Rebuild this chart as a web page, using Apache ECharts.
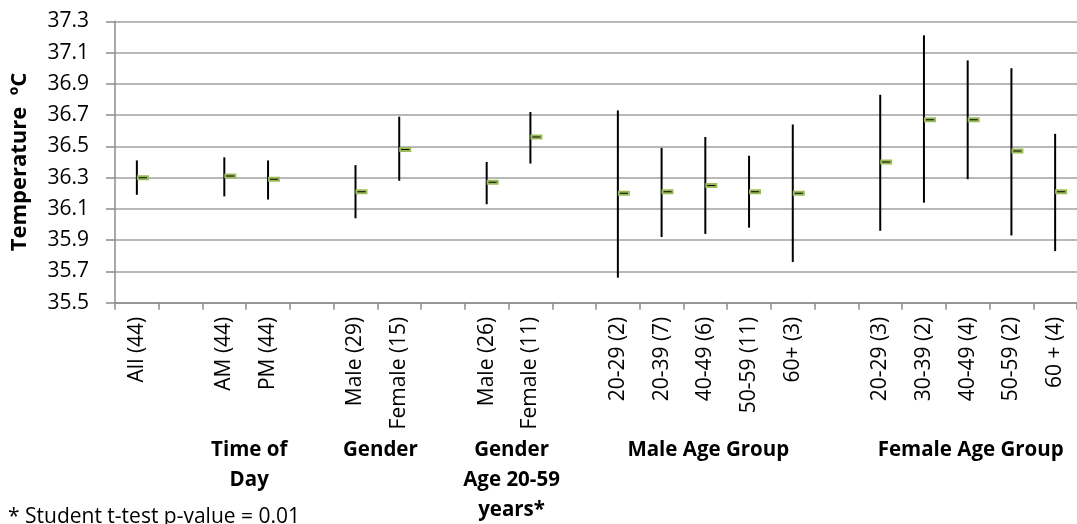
<!DOCTYPE html>
<html>
<head>
<meta charset="utf-8">
<script src="https://cdn.jsdelivr.net/npm/echarts@6/dist/echarts.min.js"></script>
<style>
html,body{margin:0;padding:0;background:#fff;}
#chart{width:1077px;height:524px;}
</style>
</head>
<body>
<div id="chart"></div>
<script>
// ---- data ----
const categories = ['All (44)', '', 'AM (44)', 'PM (44)', '', 'Male (29)', 'Female (15)', '', 'Male (26)', 'Female (11)', '',
  '20-29 (2)', '20-39 (7)', '40-49 (6)', '50-59 (11)', '60+ (3)', '',
  '20-29 (3)', '30-39 (2)', '40-49 (4)', '50-59 (2)', '60 + (4)'];
const highValues = [36.41, null, 36.43, 36.41, null, 36.38, 36.69, null, 36.40, 36.72, null,
  36.73, 36.49, 36.56, 36.44, 36.64, null, 36.83, 37.21, 37.05, 37.00, 36.58];
const lowValues = [36.19, null, 36.18, 36.16, null, 36.04, 36.28, null, 36.13, 36.39, null,
  35.66, 35.92, 35.94, 35.98, 35.76, null, 35.96, 36.14, 36.29, 35.93, 35.83];
const meanValues = [36.30, null, 36.31, 36.29, null, 36.21, 36.48, null, 36.27, 36.56, null,
  36.20, 36.21, 36.25, 36.21, 36.20, null, 36.40, 36.67, 36.67, 36.47, 36.21];
const yTickMin = 35.5;
const yTickMax = 37.3;
const yTickStep = 0.2;
const groupNames = ['Time of\nDay', 'Gender', 'Gender\nAge 20-59\nyears*', 'Male Age Group', 'Female Age Group'];
const groupSpans = [[2, 3], [5, 6], [8, 9], [11, 15], [17, 21]];
const yAxisTitle = 'Temperature  ºC';
const footnote = '* Student t-test p-value = 0.01';

// ---- chart ----
const FONT = 'Open Sans';
const seriesData = [];
categories.forEach((c, i) => {
  if (highValues[i] != null) {
    seriesData.push([i, lowValues[i] - yTickMin, highValues[i] - yTickMin, meanValues[i] - yTickMin]);
  }
});

const chart = echarts.init(document.getElementById('chart'));
const option = {
  animation: false,
  backgroundColor: '#fff',
  grid: { left: 115, top: 21.3, bottom: 221.3, right: -8, containLabel: false },
  xAxis: {
    type: 'category',
    data: categories,
    boundaryGap: true,
    axisLine: { lineStyle: { color: '#8c8c8c', width: 1.5 } },
    axisTick: { show: true, length: 7, lineStyle: { color: '#8c8c8c', width: 1.5 } },
    axisLabel: {
      rotate: 90, interval: 0, margin: 14,
      fontFamily: FONT, fontSize: 21, color: '#000'
    },
    splitLine: { show: false }
  },
  yAxis: {
    type: 'value',
    min: 0,
    max: +(yTickMax - yTickMin).toFixed(1),
    interval: yTickStep,
    name: yAxisTitle,
    nameLocation: 'middle',
    nameGap: 84,
    nameTextStyle: { fontFamily: FONT, fontWeight: 'bold', fontSize: 22, color: '#000' },
    axisLine: { show: true, lineStyle: { color: '#8c8c8c', width: 1.5 } },
    axisTick: { show: true, length: 9, lineStyle: { color: '#8c8c8c', width: 1.5 } },
    axisLabel: {
      margin: 26, fontFamily: FONT, fontSize: 21, color: '#000',
      formatter: v => (v + yTickMin).toFixed(1)
    },
    splitLine: { show: true, lineStyle: { color: '#a0a0a0', width: 1.5 } }
  },
  series: [{
    type: 'custom',
    data: seriesData,
    encode: { x: 0, y: [1, 2, 3] },
    renderItem: function (params, api) {
      const x = api.value(0);
      const lo = api.coord([x, api.value(1)]);
      const hi = api.coord([x, api.value(2)]);
      const me = api.coord([x, api.value(3)]);
      return {
        type: 'group',
        children: [
          { type: 'line', shape: { x1: lo[0], y1: lo[1], x2: hi[0], y2: hi[1] }, style: { stroke: '#000', lineWidth: 2 } },
          { type: 'rect', shape: { x: me[0] + 1, y: me[1] - 1.5, width: 10, height: 3 }, style: { fill: '#000', stroke: '#9bbb59', lineWidth: 2 } }
        ]
      };
    }
  }]
};
chart.setOption(option);

const graphics = groupNames.map((name, k) => {
  const a = chart.convertToPixel({ xAxisIndex: 0 }, groupSpans[k][0]);
  const b = chart.convertToPixel({ xAxisIndex: 0 }, groupSpans[k][1]);
  return {
    type: 'text',
    x: (a + b) / 2 + 3,
    y: 435,
    style: {
      text: name, fontFamily: FONT, fontWeight: 'bold', fontSize: 20.5,
      lineHeight: 30, fill: '#000', align: 'center', verticalAlign: 'top'
    }
  };
});
graphics.push({
  type: 'text', x: 8, y: 517,
  style: { text: footnote, fontFamily: FONT, fontSize: 21, fill: '#000', align: 'left', verticalAlign: 'middle' }
});
chart.setOption({ graphic: graphics });
</script>
</body>
</html>
